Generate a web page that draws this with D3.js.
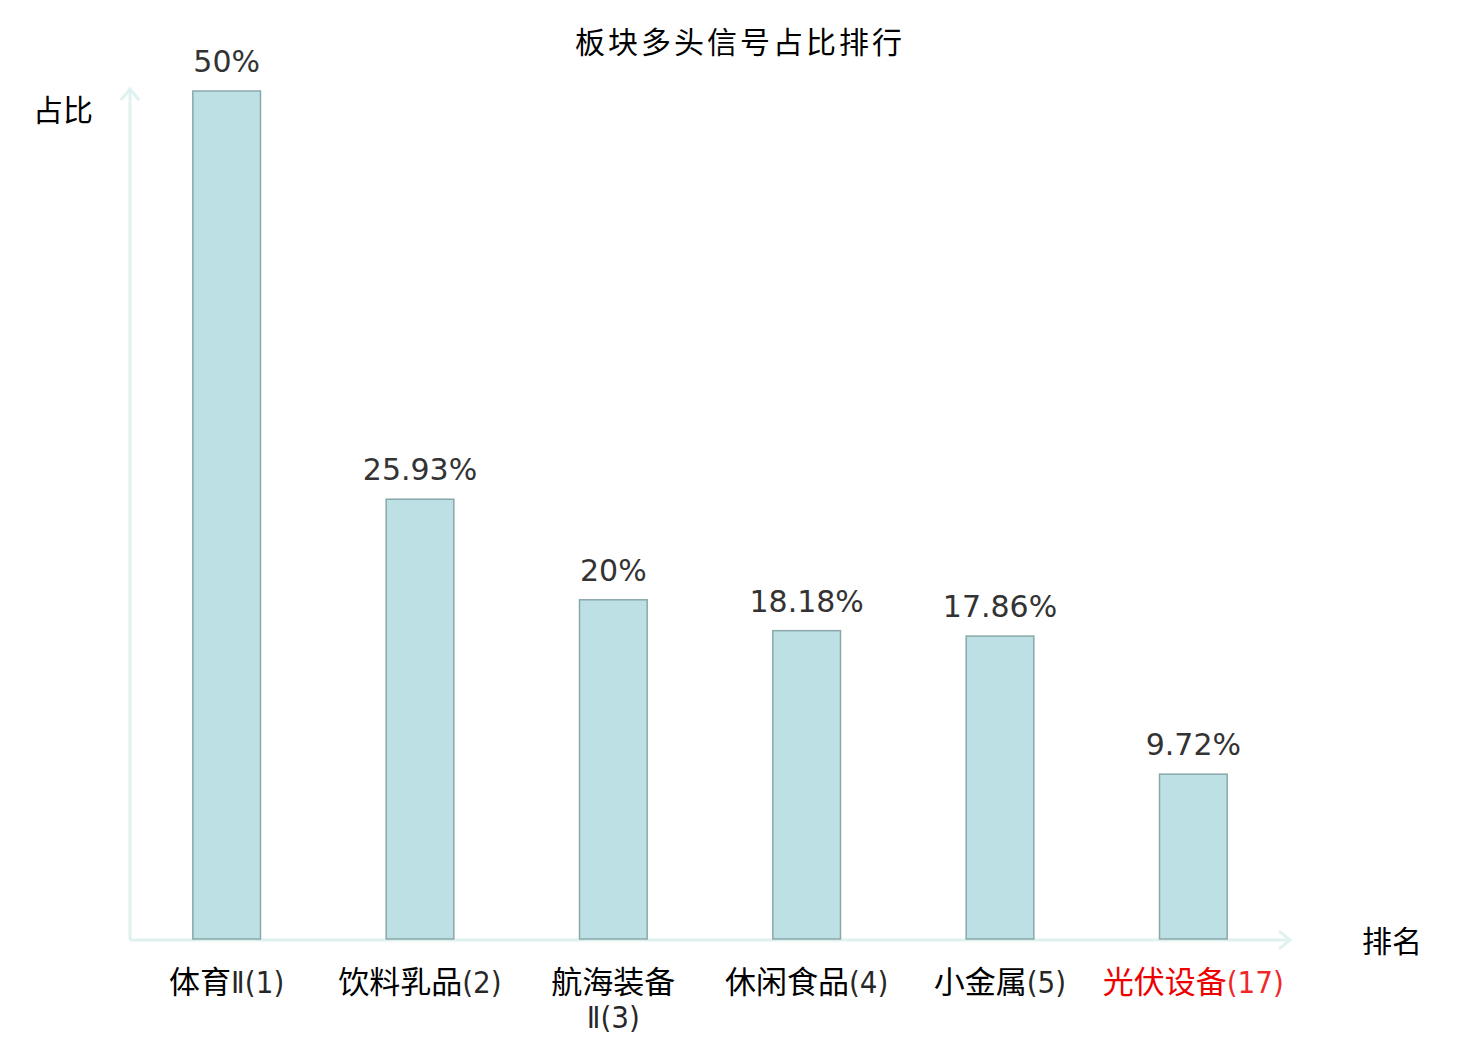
<!DOCTYPE html>
<html>
<head>
<meta charset="utf-8">
<script src="https://cdn.jsdelivr.net/npm/d3@7"></script>
<style>
    body { margin: 0; background: #fff; }
    svg { display: block; }
</style>
</head>
<body>
<svg id="chart" width="1480" height="1040" viewBox="0 0 1480 1040"></svg>
<script>
const categories = ["体育Ⅱ(1)", "饮料乳品(2)", "航海装备Ⅱ(3)", "休闲食品(4)", "小金属(5)", "光伏设备(17)"];
const categoryLines = [["体育Ⅱ(1)"], ["饮料乳品(2)"], ["航海装备", "Ⅱ(3)"], ["休闲食品(4)"], ["小金属(5)"], ["光伏设备(17)"]];
const values = [50, 25.93, 20, 18.18, 17.86, 9.72];
const valueLabels = ["50%", "25.93%", "20%", "18.18%", "17.86%", "9.72%"];
const highlight = "光伏设备(17)";

const cjk = "'Noto Sans CJK SC', 'Noto Sans', sans-serif";
const latin = "'DejaVu Sans Condensed', 'DejaVu Sans', sans-serif";
const axisColor = "#dff2ef";

const svg = d3.select("#chart");
const baseY = 939;

const x = d3.scaleBand()
    .domain(categories)
    .range([130, 1290]);

const y = d3.scaleLinear()
    .domain([0, 50])
    .range([baseY, 91]);

const barW = x.step() * 0.35;
const cx = d => x(d) + x.bandwidth() / 2;

// title
svg.append("text")
    .attr("x", 740)
    .attr("y", 53)
    .attr("text-anchor", "middle")
    .attr("font-family", cjk)
    .attr("font-size", 30)
    .attr("letter-spacing", 3)
    .attr("fill", "#000")
    .text("板块多头信号占比排行");

// axes with arrows
svg.append("defs")
    .append("marker")
    .attr("id", "arrow")
    .attr("viewBox", "0 -10 14 20")
    .attr("refX", 12)
    .attr("markerWidth", 14)
    .attr("markerHeight", 20)
    .attr("markerUnits", "userSpaceOnUse")
    .attr("orient", "auto")
    .append("path")
    .attr("d", "M 1,-9 L 12,0 L 1,9")
    .attr("fill", "none")
    .attr("stroke", axisColor)
    .attr("stroke-width", 3);

svg.append("line")
    .attr("x1", 130).attr("y1", 940)
    .attr("x2", 130).attr("y2", 89)
    .attr("stroke", axisColor)
    .attr("stroke-width", 3)
    .attr("marker-end", "url(#arrow)");

svg.append("line")
    .attr("x1", 130).attr("y1", 940)
    .attr("x2", 1290).attr("y2", 940)
    .attr("stroke", axisColor)
    .attr("stroke-width", 3)
    .attr("marker-end", "url(#arrow)");

svg.append("text")
    .attr("x", 63)
    .attr("y", 121)
    .attr("text-anchor", "middle")
    .attr("font-family", cjk)
    .attr("font-size", 30)
    .text("占比");

svg.append("text")
    .attr("x", 1392)
    .attr("y", 952)
    .attr("text-anchor", "middle")
    .attr("font-family", cjk)
    .attr("font-size", 30)
    .text("排名");

// bars
svg.append("g")
    .selectAll("rect")
    .data(values)
    .join("rect")
    .attr("x", (d, i) => cx(categories[i]) - barW / 2)
    .attr("y", d => y(d))
    .attr("width", barW)
    .attr("height", d => baseY - y(d))
    .attr("fill", "#bce0e3")
    .attr("stroke", "#8aa8aa")
    .attr("stroke-width", 1.5);

// value labels
svg.append("g")
    .selectAll("text")
    .data(values)
    .join("text")
    .attr("x", (d, i) => cx(categories[i]))
    .attr("y", d => y(d) - 19)
    .attr("text-anchor", "middle")
    .attr("font-family", "'DejaVu Sans', sans-serif")
    .attr("font-size", 30)
    .attr("fill", "#333")
    .text((d, i) => valueLabels[i]);

// category labels: one text per category, CJK and latin runs in separate tspans
const isCjk = r => /[\u4e00-\u9fff]/.test(r);
const runs = s => s.match(/[\u4e00-\u9fff]+|[^\u4e00-\u9fff]+/g);

const catG = svg.append("g");
categories.forEach((c, i) => {
    const t = catG.append("text")
        .attr("x", cx(c))
        .attr("y", 993)
        .attr("text-anchor", "middle")
        .attr("font-size", 31)
        .attr("fill", c === highlight ? "#ee0000" : "#000");
    categoryLines[i].forEach((line, j) => {
        runs(line).forEach((r, k) => {
            const ts = t.append("tspan")
                .attr("font-family", isCjk(r) ? cjk : latin)
                .attr("font-weight", isCjk(r) ? null : 300)
                .attr("fill-opacity", isCjk(r) ? 1 : 0.85)
                .text(r);
            if (j > 0 && k === 0) ts.attr("x", cx(c)).attr("dy", 35);
        });
    });
});
</script>
</body>
</html>
